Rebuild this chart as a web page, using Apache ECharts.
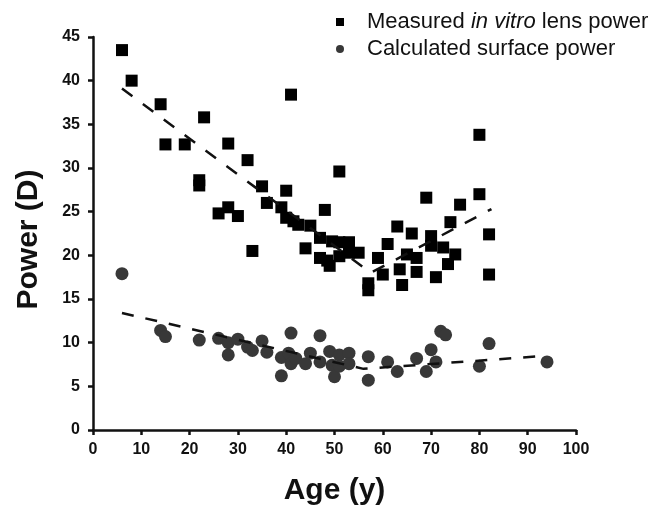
<!DOCTYPE html>
<html>
<head>
<meta charset="utf-8">
<script src="https://cdn.jsdelivr.net/npm/echarts@6/dist/echarts.min.js"></script>
<style>
  html, body { margin: 0; padding: 0; background: #fff; }
  #chart { width: 655px; height: 509px; }
</style>
</head>
<body>
<div id="chart"></div>
<script>
// measured in vitro lens power: [age, power]
const measuredPoints = [
  [6, 43.5], [8, 40], [14, 37.3], [15, 32.7], [19, 32.7], [22, 28.6], [22, 28.0],
  [23, 35.8], [26, 24.8], [28, 25.5], [28, 32.8], [30, 24.5], [32, 30.9], [33, 20.5],
  [35, 27.9], [36, 26], [39, 25.5], [40, 27.4], [40, 24.3], [41.5, 23.9], [42.5, 23.5],
  [41, 38.4], [44, 20.8], [45, 23.4], [47, 22], [47, 19.7], [48, 25.2], [48.5, 19.4],
  [49, 18.8], [49.5, 21.6], [51, 21.5], [51, 19.9], [51, 29.6], [53, 21.5], [53, 20.3],
  [55, 20.3], [57, 16.8], [57, 16.0], [59, 19.7], [60, 17.8], [61, 21.3], [63, 23.3],
  [63.5, 18.4], [64, 16.6], [65, 20.1], [66, 22.5], [67, 19.7], [67, 18.1], [69, 26.6],
  [70, 22.2], [70, 21.1], [71, 17.5], [72.5, 20.9], [73.5, 19.0], [74, 23.8], [75, 20.1],
  [76, 25.8], [80, 33.8], [80, 27.0], [82, 22.4], [82, 17.8]
];

// calculated surface power: [age, power]
const calculatedPoints = [
  [6, 17.9], [14, 11.4], [15, 10.7], [22, 10.3], [26, 10.5], [28, 10.0], [28, 8.6],
  [30, 10.4], [32, 9.5], [33, 9.1], [35, 10.2], [36, 8.9], [39, 8.3], [39, 6.2],
  [41, 11.1], [40.5, 8.8], [41, 7.6], [42, 8.2], [44, 7.6], [45, 8.8], [47, 10.8],
  [47, 7.8], [49, 9.0], [49.5, 7.4], [50, 6.1], [51, 8.6], [51, 7.3], [53, 8.8],
  [53, 7.6], [57, 8.4], [57, 5.7], [61, 7.8], [63, 6.7], [67, 8.2], [69, 6.7],
  [70, 9.2], [71, 7.8], [72, 11.3], [73, 10.9], [80, 7.3], [82, 9.9], [94, 7.8]
];

// dashed fit lines
const measuredFit = [[6, 39.1], [57.5, 18.0], [82.5, 25.3]];
const calculatedFit = [[6, 13.4], [56, 7.0], [94, 8.5]];

const xTicks = { min: 0, max: 100, interval: 10 };
const yTicks = { min: 0, max: 45, interval: 5 };

const chart = echarts.init(document.getElementById("chart"), null, { renderer: "canvas" });

const font = "Liberation Sans, Arial, Helvetica, sans-serif";

const axisCommon = {
  axisLine: { show: true, lineStyle: { color: "#111", width: 2.5 } },
  axisTick: { show: true, inside: false, length: 5, lineStyle: { color: "#111", width: 2.5 } },
  axisLabel: { color: "#111", fontFamily: font, fontWeight: "bold", fontSize: 16 },
  splitLine: { show: false },
  nameLocation: "middle",
  nameTextStyle: { color: "#111", fontFamily: font, fontWeight: "bold", fontSize: 30 },
};

const option = {
  animation: false,
  backgroundColor: "#fff",
  // fixed plot box, don't let v6 shrink it to fit the axis names
  grid: { left: 93, top: 37, width: 483, height: 393, containLabel: false, outerBoundsMode: "none" },
  legend: {
    orient: "vertical",
    left: 336,
    top: 11,
    padding: 0,
    itemWidth: 8,
    itemHeight: 8,
    itemGap: 5,
    data: [
      { name: "Measured", icon: "rect" },
      { name: "Calculated", icon: "circle" },
    ],
    formatter: (name) =>
      name === "Measured"
        ? "{a|Measured }{b|in vitro}{a| lens power}"
        : "{a|Calculated surface power}",
    textStyle: {
      padding: [0, 0, 0, 18],
      rich: {
        a: { fontFamily: font, fontSize: 22, color: "#111" },
        b: { fontFamily: font, fontSize: 22, color: "#111", fontStyle: "italic" },
      },
    },
  },
  xAxis: {
    type: "value",
    ...axisCommon,
    min: xTicks.min,
    max: xTicks.max,
    interval: xTicks.interval,
    name: "Age (y)",
    nameGap: 46,
    axisLabel: { ...axisCommon.axisLabel, margin: 12 },
  },
  yAxis: {
    type: "value",
    ...axisCommon,
    min: yTicks.min,
    max: yTicks.max,
    interval: yTicks.interval,
    name: "Power (D)",
    nameGap: 49,
    nameTextStyle: { ...axisCommon.nameTextStyle, padding: [0, 12, 0, 0] },
    axisLabel: { ...axisCommon.axisLabel, margin: 13 },
  },
  series: [
    {
      name: "Measured",
      type: "scatter",
      symbol: "rect",
      symbolSize: 12,
      itemStyle: { color: "#000", opacity: 1 },
      data: measuredPoints,
      z: 3,
    },
    {
      name: "Calculated",
      type: "scatter",
      symbol: "circle",
      symbolSize: 13,
      itemStyle: { color: "#383838", opacity: 1 },
      data: calculatedPoints,
      z: 3,
    },
    {
      name: "measuredFit",
      type: "line",
      data: measuredFit,
      showSymbol: false,
      symbol: "none",
      lineStyle: { color: "#111", width: 2.5, type: [13, 13] },
      z: 4,
    },
    {
      name: "calculatedFit",
      type: "line",
      data: calculatedFit,
      showSymbol: false,
      symbol: "none",
      lineStyle: { color: "#111", width: 2.5, type: [12, 12] },
      z: 4,
    },
  ],
};

chart.setOption(option);
</script>
</body>
</html>
